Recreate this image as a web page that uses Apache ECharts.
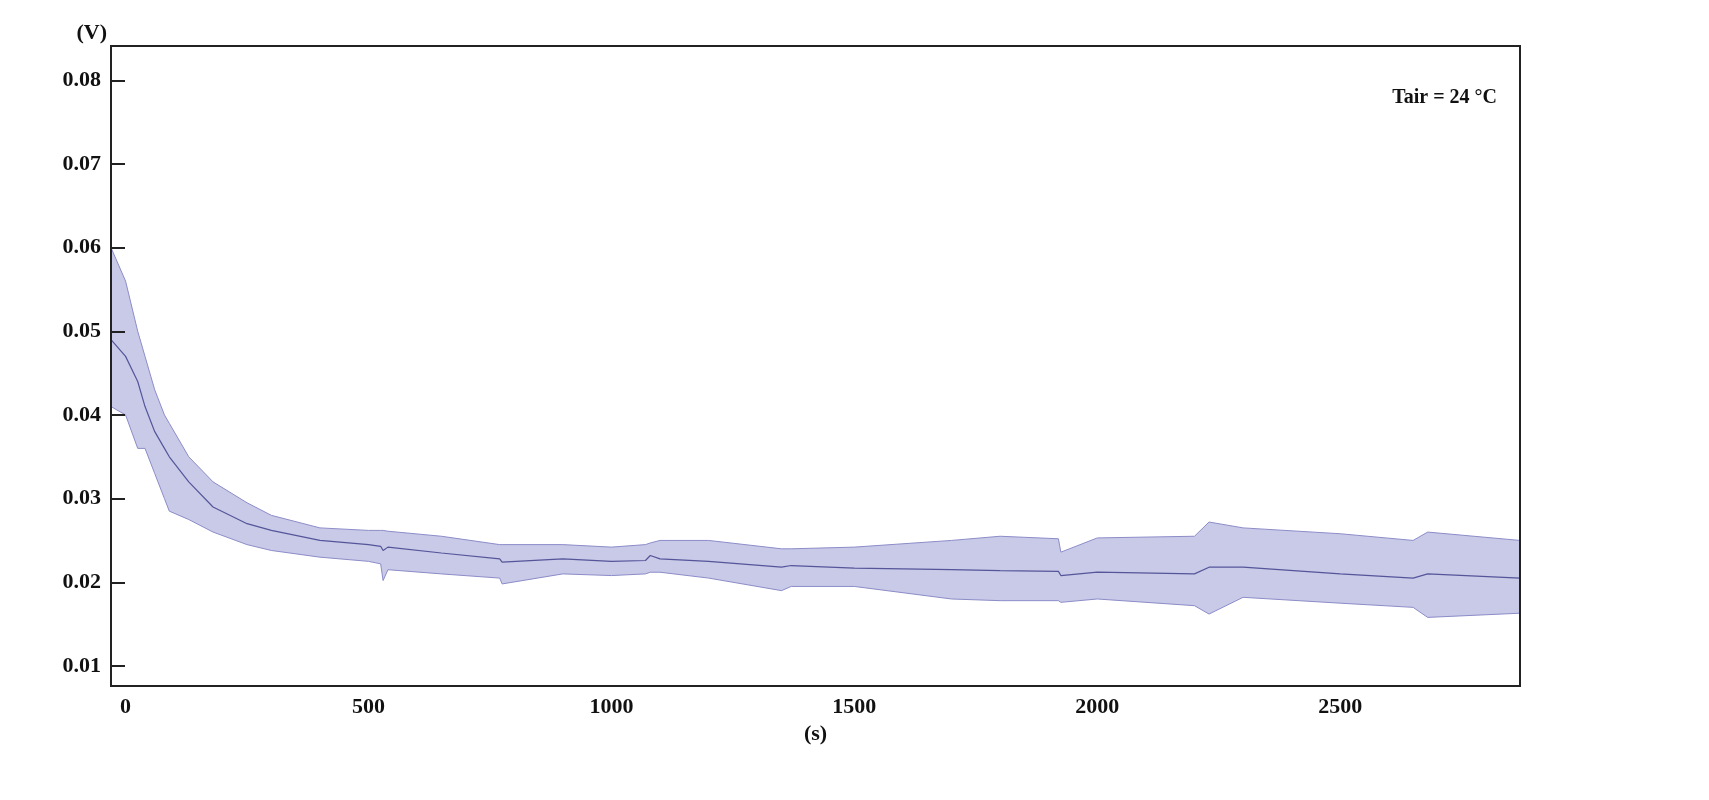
<!DOCTYPE html>
<html><head><meta charset="utf-8">
<script src="https://cdn.jsdelivr.net/npm/echarts@6/dist/echarts.min.js"></script>
<style>html,body{margin:0;padding:0;background:#fff}#c{width:1709px;height:800px}</style>
</head><body><div id="c"></div>
<script>
const times = [-30,0,25,40,60,80,90,130,180,250,300,400,500,525,530,540,650,770,775,900,1000,1070,1080,1100,1200,1350,1370,1500,1700,1800,1920,1925,2000,2200,2230,2300,2500,2650,2680,2870];
const upper = [0.060,0.056,0.050,0.047,0.043,0.040,0.039,0.035,0.032,0.0295,0.028,0.0265,0.0262,0.0262,0.0262,0.0261,0.0255,0.0245,0.0245,0.0245,0.0242,0.0245,0.0247,0.025,0.025,0.024,0.024,0.0242,0.025,0.0255,0.0252,0.0236,0.0253,0.0255,0.0272,0.0265,0.0258,0.025,0.026,0.025];
const mean  = [0.049,0.047,0.044,0.041,0.038,0.036,0.035,0.032,0.029,0.027,0.0262,0.025,0.0245,0.0243,0.0238,0.0242,0.0235,0.0228,0.0224,0.0228,0.0225,0.0226,0.0232,0.0228,0.0225,0.0218,0.022,0.0217,0.0215,0.0214,0.0213,0.0208,0.0212,0.021,0.0218,0.0218,0.021,0.0205,0.021,0.0205];
const lower = [0.041,0.040,0.036,0.036,0.033,0.030,0.0285,0.0275,0.026,0.0245,0.0238,0.023,0.0225,0.0222,0.0202,0.0215,0.021,0.0205,0.0198,0.021,0.0208,0.021,0.0212,0.0212,0.0205,0.019,0.0195,0.0195,0.018,0.0178,0.0178,0.0176,0.018,0.0172,0.0162,0.0182,0.0175,0.017,0.0158,0.0163];
const xTicks = [0,500,1000,1500,2000,2500];
const yTicks = [0.01,0.02,0.03,0.04,0.05,0.06,0.07,0.08];

const pair = a => times.map((t,i)=>[t,a[i]]);
const font = {fontFamily:'Liberation Serif', fontWeight:'bold', color:'#111', fontSize:22};
const chart = echarts.init(document.getElementById('c'));
chart.setOption({
  animation:false,
  grid:{left:111,right:189,top:46,bottom:114},
  xAxis:{type:'value',min:-30,max:2870,z:10,
    name:'(s)',nameLocation:'middle',nameGap:34,nameTextStyle:font,
    axisLine:{onZero:false,lineStyle:{color:'#222',width:2}},
    axisTick:{show:false},splitLine:{show:false},
    axisLabel:Object.assign({customValues:xTicks,margin:10,formatter:v=>String(v)},font)},
  yAxis:{type:'value',min:0.0076,max:0.0841,z:10,
    name:'(V)',nameLocation:'end',nameGap:2,nameTextStyle:Object.assign({align:'right',padding:[0,4,0,0]},font),
    axisLine:{show:true,onZero:false,lineStyle:{color:'#222',width:2}},
    axisTick:{show:true,inside:true,length:14,customValues:yTicks,lineStyle:{color:'#222',width:2}},
    splitLine:{show:false},
    axisLabel:Object.assign({customValues:yTicks,margin:10,formatter:v=>v.toFixed(2)},font)},
  graphic:[
    {type:'rect',shape:{x:111,y:46,width:1409,height:640},style:{fill:'none',stroke:'#222',lineWidth:2},z:100},
    {type:'text',right:212,top:88,style:{text:'Tair = 24 °C',font:'bold 20px "Liberation Serif"',fill:'#111'}}
  ],
  series:[
    {type:'line',data:pair(upper),symbol:'none',lineStyle:{width:1,color:'#8c8cc8'},areaStyle:{color:'#c9c9e8',opacity:1,origin:'start'},z:1},
    {type:'line',data:pair(lower),symbol:'none',lineStyle:{width:1,color:'#8c8cc8'},areaStyle:{color:'#ffffff',opacity:1,origin:'start'},z:2},
    {type:'line',data:pair(mean),symbol:'none',lineStyle:{width:1.2,color:'#55559a'},z:3}
  ]
});
</script></body></html>
